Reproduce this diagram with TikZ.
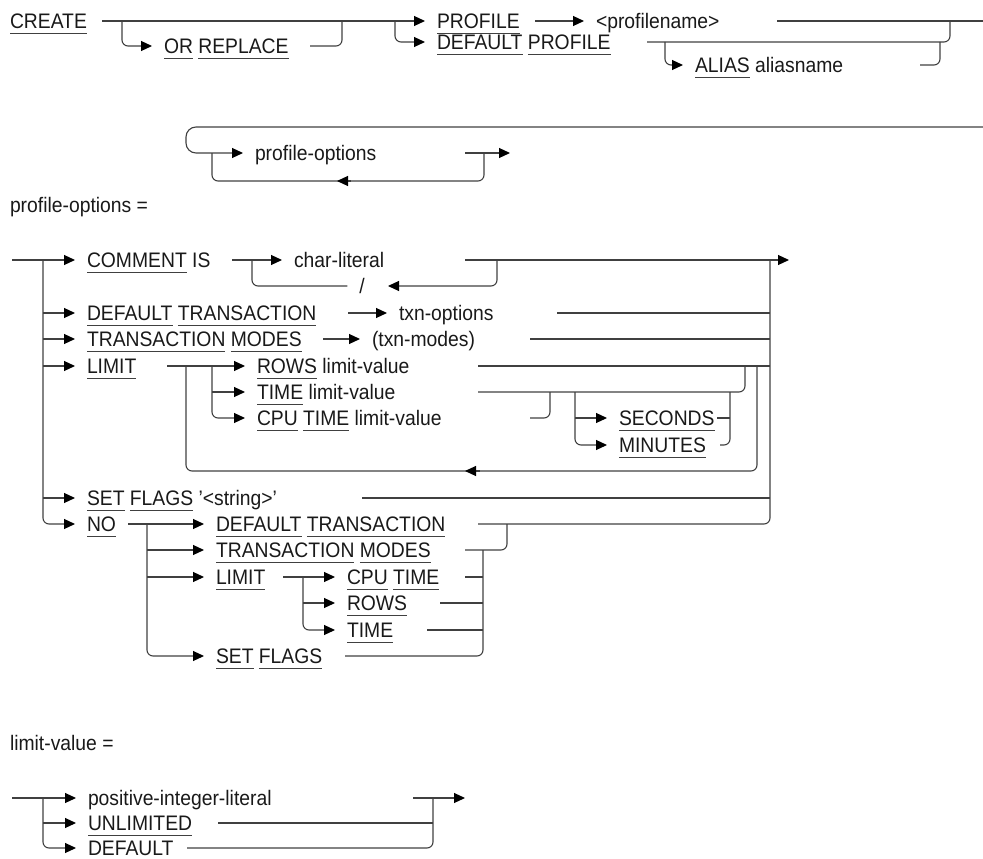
\documentclass[tikz,border=0pt]{standalone}
\usepackage{fontspec}
\setmainfont{Liberation Sans}[FakeStretch=0.92]
\usetikzlibrary{arrows.meta}
\newcommand{\kw}[1]{\setbox0=\hbox{#1}\rlap{\color{black!75}\rule[-5.5pt]{\wd0}{1.1pt}}\box0\relax}

\begin{document}
\begin{tikzpicture}[x=1pt,y=-1pt,line width=1.1pt,draw=black!75,rounded corners=6pt,
  >={Triangle[length=11pt,width=10pt,color=black]},
  txt/.style={inner sep=0pt,outer xsep=12pt,anchor=west,text height=15pt,text depth=0pt,
    text=black!90,font=\fontsize{21}{24}\selectfont}]
  \useasboundingbox (0,0) rectangle (983,859);
  % CREATE ... PROFILE
  \node[txt] (create) at (-2,21) {\kw{CREATE}};
  \node[txt] (orrep) at (152,46) {\kw{OR} \kw{REPLACE}};
  \node[txt] (prof) at (425,21) {\kw{PROFILE}};
  \node[txt] (pname) at (584,21) {<profilename>};
  \node[txt] (defprof) at (425,42) {\kw{DEFAULT} \kw{PROFILE}};
  \node[txt] (alias) at (683,65) {\kw{ALIAS} aliasname};
  \coordinate (a0) at (102,21); \coordinate (a1) at (122,21); \coordinate (a2) at (310,46); \coordinate (a3) at (342,21);
  \coordinate (a4) at (395,21); \coordinate (a5) at (535,21); \coordinate (a6) at (777,21); \coordinate (a7) at (983,21);
  \coordinate (a8) at (647,42); \coordinate (a9) at (950,21); \coordinate (a10) at (665,42);
  \coordinate (a11) at (920,65); \coordinate (a12) at (940,42);
  \draw[->] (a0) -- (prof.west);
  \draw[->] (a1) |- (orrep.west);
  \draw (a2) -| (a3);
  \draw[->] (a4) |- (defprof.west);
  \draw[->] (a5) -- (pname.west);
  \draw (a6) -- (a7);
  \draw (a8) -| (a9);
  \draw[->] (a10) |- (alias.west);
  \draw (a11) -| (a12);
  % bucle de profile-options
  \node[txt] (po) at (243,153) {profile-options};
  \coordinate (b0) at (983,127); \coordinate (b1) at (186,153); \coordinate (b2) at (212,153);
  \coordinate (b3) at (484,181); \coordinate (b4) at (484,153); \coordinate (b5) at (465,153);
  \coordinate (b6) at (510,153); \coordinate (b7) at (337,181);
  \draw[->,rounded corners=10pt] (b0) -| (b1) -- (po.west);
  \draw (b2) |- (b3) -- (b4);
  \draw[->] (b5) -- (b6);
  \draw[<-] (b7) -- +(14,0);
  \node[txt] (podef) at (-2,205) {profile-options =};
  % profile-options
  \node[txt] (comm) at (75,260) {\kw{COMMENT} IS};
  \node[txt] (charl) at (282,260) {char-literal};
  \node[txt,anchor=center] (slash) at (362,286) {/};
  \node[txt] (dt) at (75,313) {\kw{DEFAULT} \kw{TRANSACTION}};
  \node[txt] (txo) at (387,313) {txn-options};
  \node[txt] (tm) at (75,339) {\kw{TRANSACTION} \kw{MODES}};
  \node[txt] (txm) at (360,339) {(txn-modes)};
  \node[txt] (lim) at (75,366) {\kw{LIMIT}};
  \node[txt] (rows) at (245,366) {\kw{ROWS} limit-value};
  \node[txt] (time) at (245,392) {\kw{TIME} limit-value};
  \node[txt] (cpu) at (245,418) {\kw{CPU} \kw{TIME} limit-value};
  \node[txt] (sec) at (607,418) {\kw{SECONDS}};
  \node[txt] (min) at (607,445) {\kw{MINUTES}};
  \node[txt] (setf) at (75,498) {\kw{SET} \kw{FLAGS} '<string>'};
  \node[txt] (no) at (75,524) {\kw{NO}};
  \node[txt] (ndt) at (204,524) {\kw{DEFAULT} \kw{TRANSACTION}};
  \node[txt] (ntm) at (204,550) {\kw{TRANSACTION} \kw{MODES}};
  \node[txt] (nlim) at (204,577) {\kw{LIMIT}};
  \node[txt] (ncpu) at (335,577) {\kw{CPU} \kw{TIME}};
  \node[txt] (nrows) at (335,603) {\kw{ROWS}};
  \node[txt] (ntime) at (335,630) {\kw{TIME}};
  \node[txt] (nset) at (204,656) {\kw{SET} \kw{FLAGS}};
  % ramas izquierda y derecha
  \coordinate (l0) at (12,260); \coordinate (l1) at (43,260); \coordinate (r0) at (770,260); \coordinate (r1) at (478,524);
  \draw[->] (l0) -- (comm.west);
  \draw[->] (l1) |- (no.west);
  \draw[->] (l1 |- dt.west) -- (dt.west);
  \draw[->] (l1 |- tm.west) -- (tm.west);
  \draw[->] (l1 |- lim.west) -- (lim.west);
  \draw[->] (l1 |- setf.west) -- (setf.west);
  \draw (r1) -| (r0);
  % COMMENT IS
  \coordinate (c0) at (232,260); \coordinate (c1) at (465,260); \coordinate (c2) at (789,260);
  \coordinate (c3) at (497,260); \coordinate (c4) at (252,260); \coordinate (c5) at (388,286);
  \draw[->] (c0) -- (charl.west);
  \draw[->] (c1) -- (c2);
  \draw[->] (c3) |- (c5);
  \draw (slash.west) -| (c4);
  % DEFAULT TRANSACTION, TRANSACTION MODES
  \coordinate (d0) at (348,313); \coordinate (d1) at (557,313); \coordinate (d2) at (323,339); \coordinate (d3) at (530,339);
  \draw[->] (d0) -- (txo.west);
  \draw (d1) -- (r0 |- txo.west);
  \draw[->] (d2) -- (txm.west);
  \draw (d3) -- (r0 |- txm.west);
  % LIMIT
  \coordinate (e0) at (186,366); \coordinate (e1) at (212,366); \coordinate (e2) at (167,366); \coordinate (e3) at (478,366);
  \coordinate (e4) at (478,392); \coordinate (e5) at (745,366); \coordinate (e6) at (530,418); \coordinate (e7) at (550,392);
  \draw[->] (e2) -- (rows.west);
  \draw[->] (e1) |- (cpu.west);
  \draw[->] (e1 |- time.west) -- (time.west);
  \draw (e3) -- (r0 |- rows.west);
  \draw (e4) -| (e5);
  \draw (e6) -| (e7);
  \coordinate (s0) at (575,392); \coordinate (s1) at (717,418); \coordinate (s2) at (730,392); \coordinate (s3) at (720,445);
  \draw[->] (s0) |- (min.west);
  \draw[->] (s0 |- sec.west) -- (sec.west);
  \draw (s1) -- (s2 |- s1);
  \draw (s3) -| (s2);
  \coordinate (g0) at (757,366); \coordinate (g1) at (757,471); \coordinate (g2) at (465,471);
  \draw (g0) |- (e0 |- g1) -- (e0);
  \draw[<-] (g2) -- +(15,0);
  % SET FLAGS
  \coordinate (f0) at (362,498);
  \draw (f0) -- (r0 |- setf.west);
  % NO
  \coordinate (n0) at (147,524); \coordinate (n1) at (483,550); \coordinate (n2) at (303,577); \coordinate (n3) at (128,524);
  \coordinate (n4) at (465,550); \coordinate (n5) at (507,524); \coordinate (n6) at (345,656); \coordinate (n7) at (283,577);
  \coordinate (n8) at (465,577); \coordinate (n9) at (440,603); \coordinate (n10) at (427,630);
  \draw[->] (n3) -- (ndt.west);
  \draw[->] (n0) |- (nset.west);
  \draw[->] (n0 |- ntm.west) -- (ntm.west);
  \draw[->] (n0 |- nlim.west) -- (nlim.west);
  \draw (n4) -| (n5);
  \draw (n6) -| (n1);
  \draw[->] (n7) -- (ncpu.west);
  \draw[->] (n2) |- (ntime.west);
  \draw[->] (n2 |- nrows.west) -- (nrows.west);
  \draw (n8) -- (n1 |- n8);
  \draw (n9) -- (n1 |- n9);
  \draw (n10) -- (n1 |- n10);
  % limit-value
  \node[txt] (lvdef) at (-2,743) {limit-value =};
  \node[txt] (pil) at (76,798) {positive-integer-literal};
  \node[txt] (unl) at (76,823) {\kw{UNLIMITED}};
  \node[txt] (dflt) at (76,848) {\kw{DEFAULT}};
  \coordinate (v0) at (12,798); \coordinate (v1) at (43,798); \coordinate (v2) at (433,798);
  \coordinate (v3) at (413,798); \coordinate (v4) at (465,798); \coordinate (v5) at (218,823); \coordinate (v6) at (187,848);
  \draw[->] (v0) -- (pil.west);
  \draw[->] (v1) |- (dflt.west);
  \draw[->] (v1 |- unl.west) -- (unl.west);
  \draw[->] (v3) -- (v4);
  \draw (v5) -- (v2 |- v5);
  \draw (v6) -| (v2);
\end{tikzpicture}
\end{document}
